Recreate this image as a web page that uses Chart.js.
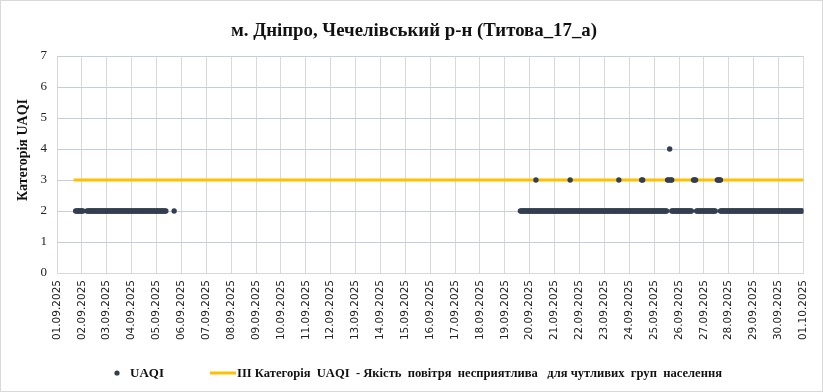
<!DOCTYPE html>
<html>
<head>
<meta charset="utf-8">
<script src="https://cdn.jsdelivr.net/npm/chart.js@4.4.1/dist/chart.umd.min.js"></script>
<style>
html,body{margin:0;padding:0;background:#fff;overflow:hidden;}
canvas{display:block;}
</style>
</head>
<body>
<canvas id="c" width="823" height="392"></canvas>
<script>
// Tick labels (one per day, at hour offsets 0,24,...,720)
const dateLabels = ["01.09.2025","02.09.2025","03.09.2025","04.09.2025","05.09.2025","06.09.2025","07.09.2025","08.09.2025","09.09.2025","10.09.2025","11.09.2025","12.09.2025","13.09.2025","14.09.2025","15.09.2025","16.09.2025","17.09.2025","18.09.2025","19.09.2025","20.09.2025","21.09.2025","22.09.2025","23.09.2025","24.09.2025","25.09.2025","26.09.2025","27.09.2025","28.09.2025","29.09.2025","30.09.2025","01.10.2025"];
const tickHours = [0,24,48,72,96,120,144,168,192,216,240,264,288,312,336,360,384,408,432,456,480,504,528,552,576,600,624,648,672,696,720];

// Hourly UAQI readings at category 2, one 24-character string per day (01.09 ... 30.09), '.' = none
const uaqiDaily = [
  "..................222222", // 01.09
  "22...2222222222222222222", // 02.09
  "222222222222222222222222", // 03.09
  "222222222222222222222222", // 04.09
  "2222222222.......2......", // 05.09
  "........................", // 06.09
  "........................", // 07.09
  "........................", // 08.09
  "........................", // 09.09
  "........................", // 10.09
  "........................", // 11.09
  "........................", // 12.09
  "........................", // 13.09
  "........................", // 14.09
  "........................", // 15.09
  "........................", // 16.09
  "........................", // 17.09
  "........................", // 18.09
  "...............222222222", // 19.09
  "222222222222222222222222", // 20.09
  "222222222222222222222222", // 21.09
  "222222222222222222222222", // 22.09
  "222222222222222222222222", // 23.09
  "222222222222222222222222", // 24.09
  "2222222222222....2222222", // 25.09
  "2222222222222....2222222", // 26.09
  "222222222222....22222222", // 27.09
  "222222222222222222222222", // 28.09
  "222222222222222222222222", // 29.09
  "222222222222222222222222"  // 30.09
];

// Elevated UAQI readings (hour offset from 01.09 00:00, category)
const highHours  = [462, 495, 542, 564, 565, 589, 590, 591, 592, 593, 614, 615, 616, 637, 638, 639, 640];
const highValues = [3,   3,   3,   3,   3,   3,   3,   4,   3,   3,   3,   3,   3,   3,   3,   3,   3];

// Threshold line (III category)
const thresholdHours = [16, 720];
const thresholdValues = [3, 3];

const titleText = "м. Дніпро, Чечелівський р-н (Титова_17_а)";
const yTitleText = "Категорія UAQI";
const legendUaqi = "UAQI";
const legendThreshold = "ІІІ Категорія  UAQI  - Якість  повітря  несприятлива   для чутливих  груп  населення";

const uaqiPoints = [];
uaqiDaily.forEach((s, d) => {
  for (let h = 0; h < s.length; h++) {
    const ch = s[h];
    if (ch !== '.') uaqiPoints.push({x: d * 24 + h, y: Number(ch)});
  }
});
highHours.forEach((h, i) => uaqiPoints.push({x: h, y: highValues[i]}));
const thresholdPoints = thresholdHours.map((h, i) => ({x: h, y: thresholdValues[i]}));

const DOT = '#333f50';
const YEL = '#FFC000';

const decor = {
  id: 'decor',
  beforeDraw(chart) {
    const ctx = chart.ctx;
    ctx.save();
    ctx.fillStyle = '#fff';
    ctx.fillRect(0, 0, chart.width, chart.height);
    ctx.restore();
  },
  afterDraw(chart) {
    const ctx = chart.ctx;
    ctx.save();
    ctx.strokeStyle = '#d9d9d9';
    ctx.lineWidth = 1;
    ctx.strokeRect(0.5, 0.5, chart.width - 1, chart.height - 1);
    // title
    ctx.fillStyle = '#111';
    ctx.font = 'bold 19px "Liberation Serif"';
    ctx.textAlign = 'center';
    ctx.textBaseline = 'alphabetic';
    ctx.fillText(titleText, 414, 36, 366);
    // y title
    ctx.save();
    ctx.translate(27, 150);
    ctx.rotate(-Math.PI / 2);
    ctx.font = 'bold 14px "Liberation Serif"';
    ctx.textAlign = 'center';
    ctx.fillText(yTitleText, 0, 0, 102);
    ctx.restore();
    // legend
    const ly = 373;
    ctx.fillStyle = DOT;
    ctx.beginPath();
    ctx.arc(117, ly, 2.6, 0, Math.PI * 2);
    ctx.fill();
    ctx.fillStyle = '#111';
    ctx.font = 'bold 13px "Liberation Serif"';
    ctx.textAlign = 'left';
    ctx.textBaseline = 'middle';
    ctx.fillText(legendUaqi, 130, ly + 1, 35);
    ctx.strokeStyle = YEL;
    ctx.lineWidth = 3;
    ctx.beginPath();
    ctx.moveTo(210, ly);
    ctx.lineTo(236, ly);
    ctx.stroke();
    ctx.fillText(legendThreshold, 237, ly + 1, 485);
    ctx.restore();
  }
};

new Chart(document.getElementById('c'), {
  type: 'scatter',
  data: {
    datasets: [
      {
        label: legendUaqi,
        data: uaqiPoints,
        showLine: false,
        pointRadius: 2.7,
        pointHoverRadius: 2.7,
        pointBackgroundColor: DOT,
        pointBorderWidth: 0,
        backgroundColor: DOT,
        borderColor: DOT
      },
      {
        label: legendThreshold,
        data: thresholdPoints,
        showLine: true,
        pointRadius: 0,
        borderColor: YEL,
        borderWidth: 3,
        borderCapStyle: 'butt',
        fill: false
      }
    ]
  },
  options: {
    responsive: false,
    animation: false,
    devicePixelRatio: 1,
    layout: {padding: {top: 56, right: 16, bottom: 49, left: 0}},
    plugins: {legend: {display: false}, tooltip: {enabled: false}, title: {display: false}},
    scales: {
      x: {
        type: 'linear',
        min: 0,
        max: 720,
        afterBuildTicks: (s) => { s.ticks = tickHours.map(v => ({value: v})); },
        afterFit: (s) => { s.height = 70; },
        ticks: {
          autoSkip: false,
          maxRotation: 90,
          minRotation: 90,
          padding: 7,
          color: '#222',
          font: {family: '"DejaVu Sans"', size: 10.5},
          callback: (v, i) => dateLabels[i]
        },
        grid: {color: '#d9d9d9', drawTicks: false},
        border: {color: '#d9d9d9'}
      },
      y: {
        min: 0,
        max: 7,
        afterFit: (s) => { s.width = 57; },
        ticks: {
          stepSize: 1,
          padding: 10,
          color: '#222',
          font: {family: '"Liberation Serif"', size: 13}
        },
        grid: {color: '#c5cde0', drawTicks: false},
        border: {display: false}
      }
    }
  },
  plugins: [decor]
});
</script>
</body>
</html>
